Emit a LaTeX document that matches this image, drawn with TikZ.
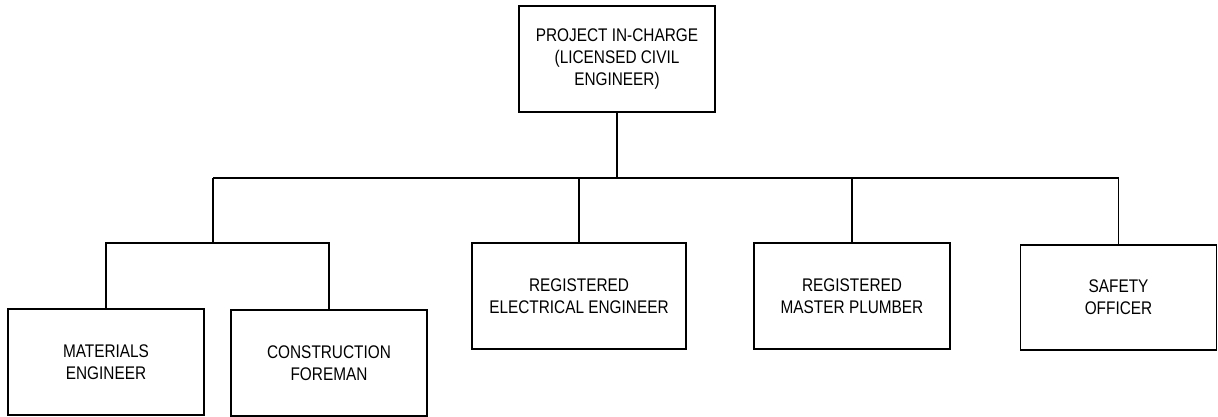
\documentclass[tikz,border=0pt]{standalone}
\usepackage{fontspec}
\setmainfont{Liberation Sans}[FakeStretch=0.84]
\begin{document}
\begin{tikzpicture}[x=1pt,y=-1pt,
  orgbox/.style={draw,line width=1.8pt,minimum width=196pt,minimum height=106pt,inner sep=0pt,align=center,font=\fontsize{18.3}{22}\selectfont},
  link/.style={line width=1.8pt}]
\useasboundingbox (0,0) rectangle (1218,416);
\fill[white] (0,0) rectangle (1218,416);
\node[orgbox] (top) at (617,59) {PROJECT IN-CHARGE\\(LICENSED CIVIL\\ENGINEER)};
\node[orgbox] (mat) at (106,362) {MATERIALS\\ENGINEER};
\node[orgbox] (con) at (329,363) {CONSTRUCTION\\FOREMAN};
\node[orgbox,minimum width=214pt] (ele) at (579,296) {REGISTERED\\ELECTRICAL ENGINEER};
\node[orgbox] (plu) at (852,296) {REGISTERED\\MASTER PLUMBER};
\node[orgbox,minimum height=105pt] (saf) at (1118.5,297.5) {SAFETY\\OFFICER};
\coordinate (busL) at (213,178);
\coordinate (subM) at (213,243);
\draw[link] (top.south) -- (top.south |- busL);
\draw[link] (busL) -- (saf.north |- busL);
\draw[link] (busL) -- (subM);
\draw[link] (mat.north) |- (subM) -| (con.north);
\draw[link] (ele.north) -- (ele.north |- busL);
\draw[link] (plu.north) -- (plu.north |- busL);
\draw[link] (saf.north) -- (saf.north |- busL);
\end{tikzpicture}
\end{document}
